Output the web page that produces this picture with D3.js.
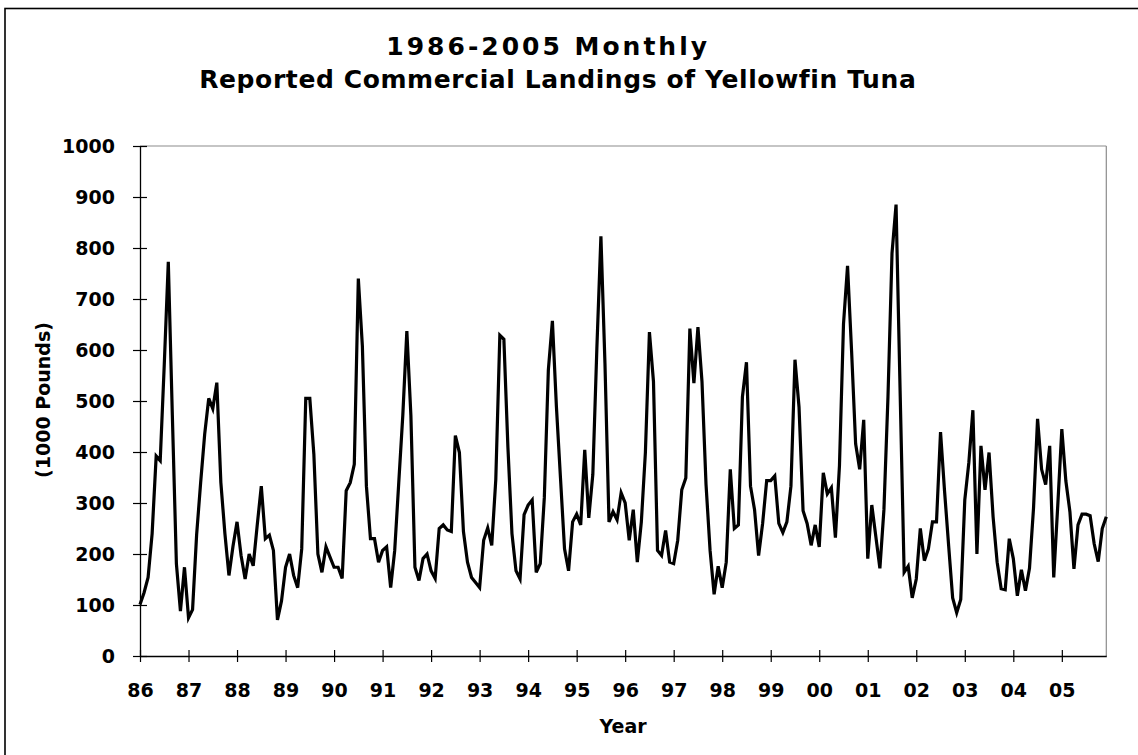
<!DOCTYPE html>
<html>
<head>
<meta charset="utf-8">
<script src="https://cdn.jsdelivr.net/npm/d3@7"></script>
<style>
  html, body { margin: 0; padding: 0; background: #ffffff; }
  svg { display: block; }
  text { font-family: "DejaVu Sans", Verdana, sans-serif; font-weight: bold; fill: #000; }
</style>
</head>
<body>
<svg id="chart" width="1138" height="755"></svg>
<script>
// ---- data (monthly landings, 1000 pounds), one row per year ----
const titleLines = ["1986-2005 Monthly", "Reported Commercial Landings of Yellowfin Tuna"];
const yAxisTitle = "(1000 Pounds)";
const xAxisTitle = "Year";
const yearLabels = ["86","87","88","89","90","91","92","93","94","95","96","97","98","99","00","01","02","03","04","05"];
const yTickValues = [0,100,200,300,400,500,600,700,800,900,1000];
const landings = [
  101,124,154,240,392,383,571,773,472,181, 88,174,  // 1986
   75, 91,237,340,435,505,485,536,340,240,158,215,  // 1987
  263,197,151,200,177,257,333,230,237,207, 71,108,  // 1988
  174,200,158,134,210,505,505,396,200,164,214,194,  // 1989
  174,174,152,324,340,376,740,608,333,230,230,184,  // 1990
  207,214,134,207,340,472,637,472,174,148,191,200,  // 1991
  167,152,250,257,247,244,432,399,244,184,154,144,  // 1992
  134,227,251,217,346,629,621,409,240,167,151,277,  // 1993
  296,306,164,181,310,561,657,488,349,210,167,263,  // 1994
  278,257,404,271,356,604,823,574,263,283,267,320,  // 1995
  300,227,287,184,263,399,635,538,207,197,246,184,  // 1996
  181,227,326,349,642,535,645,538,336,207,121,176,  // 1997
  134,184,366,250,257,508,576,333,287,197,260,344,  // 1998
  344,353,260,242,263,333,581,488,285,260,217,257,  // 1999
  214,359,318,330,232,373,651,765,598,416,366,463,  // 2000
  191,296,234,172,287,508,790,885,520,164,176,114,  // 2001
  151,250,187,210,263,263,439,323,217,114, 85,111,  // 2002
  306,379,482,200,412,326,399,273,184,132,130,230,  // 2003
  191,118,169,128,172,290,465,366,336,412,154,296,  // 2004
  445,343,283,171,257,278,278,275,220,185,250,273   // 2005
];

// ---- layout ----
const svg = d3.select("#chart");
const plot = { left: 140, right: 1106.3, top: 146, bottom: 656 };

// outer chart frame (extends past the right/bottom edge as in reference)
svg.append("rect")
  .attr("x", 5).attr("y", 8.5)
  .attr("width", 1160).attr("height", 780)
  .attr("fill", "#fff").attr("stroke", "#000").attr("stroke-width", 1.6);

const x = d3.scaleLinear().domain([0, landings.length - 1]).range([plot.left, plot.right]);
const y = d3.scaleLinear().domain([0, 1000]).range([plot.bottom, plot.top]);

// plot area frame: top & right in gray
svg.append("line")
  .attr("x1", plot.left).attr("x2", plot.right)
  .attr("y1", plot.top).attr("y2", plot.top)
  .attr("stroke", "#8c8c8c").attr("stroke-width", 1.2);
svg.append("line")
  .attr("x1", plot.right).attr("x2", plot.right)
  .attr("y1", plot.top).attr("y2", plot.bottom)
  .attr("stroke", "#8c8c8c").attr("stroke-width", 1.2);

// y axis
const yAxis = svg.append("g")
  .attr("transform", `translate(${plot.left},0)`)
  .call(d3.axisLeft(y).tickValues(yTickValues).tickFormat(d3.format("d")).tickSizeOuter(0).tickSizeInner(7).tickPadding(18));
yAxis.select(".domain").attr("stroke", "#000").attr("stroke-width", 1.3);
yAxis.selectAll(".tick line").attr("x1", -7).attr("x2", 7).attr("stroke", "#000").attr("stroke-width", 1.2);
yAxis.selectAll(".tick text")
  .style("font-size", "19px").style("font-family", '"DejaVu Sans", Verdana, sans-serif')
  .style("font-weight", "bold").attr("fill", "#000");

// x axis
const tickIdx = yearLabels.map((_, i) => i * 12);
const xAxis = svg.append("g")
  .attr("transform", `translate(0,${plot.bottom})`)
  .call(d3.axisBottom(x).tickValues(tickIdx).tickFormat((d, i) => yearLabels[i]).tickSizeOuter(0).tickSizeInner(6).tickPadding(22));
xAxis.select(".domain").attr("stroke", "#000").attr("stroke-width", 1.3);
xAxis.selectAll(".tick line").attr("y1", -6).attr("y2", 6).attr("stroke", "#000").attr("stroke-width", 1.2);
xAxis.selectAll(".tick text")
  .style("font-size", "19px").style("font-family", '"DejaVu Sans", Verdana, sans-serif')
  .style("font-weight", "bold").attr("fill", "#000");

// data line
const line = d3.line().x((d, i) => x(i)).y(d => y(d));
svg.append("path")
  .datum(landings)
  .attr("d", line)
  .attr("fill", "none")
  .attr("stroke", "#000")
  .attr("stroke-width", 3.2)
  .attr("stroke-linejoin", "miter")
  .attr("stroke-miterlimit", 4);

// titles
svg.append("text").attr("text-anchor", "middle").attr("x", 548.2).attr("y", 55)
  .style("font-size", "25px").style("letter-spacing", "3px")
  .text(titleLines[0]);
svg.append("text").attr("text-anchor", "middle").attr("x", 557.8).attr("y", 87.7)
  .style("font-size", "25px").style("letter-spacing", "0.6px")
  .text(titleLines[1]);

// axis titles
svg.append("text").attr("text-anchor", "middle")
  .attr("transform", `translate(50,400) rotate(-90)`)
  .style("font-size", "19px").text(yAxisTitle);
svg.append("text").attr("text-anchor", "middle")
  .attr("x", (plot.left + plot.right) / 2).attr("y", 732.7)
  .style("font-size", "19px").text(xAxisTitle);
</script>
</body>
</html>
